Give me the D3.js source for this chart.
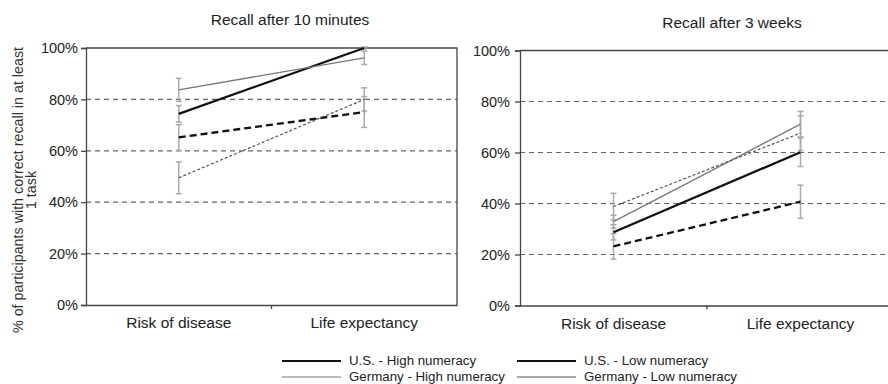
<!DOCTYPE html>
<html lang="en">
<head>
  <meta charset="UTF-8">
  <title>Recall by numeracy</title>
  <script src="https://d3js.org/d3.v7.min.js"></script>
  <style>
    body { margin: 0; background: #fff; }
    svg { font-family: "Liberation Sans", Arial, sans-serif; }
  </style>
</head>
<body>
  <svg width="888" height="384"></svg>

  <script>
    const width = 888;
    const height = 384;

    // data
    const categories = ["Risk of disease", "Life expectancy"];
    const yTicks = [0, 20, 40, 60, 80, 100];
    const seriesNames = ["U.S. - High numeracy", "Germany - High numeracy", "U.S. - Low numeracy", "Germany - Low numeracy"];
    const panelTitles = ["Recall after 10 minutes", "Recall after 3 weeks"];

    // order: US high, Germany high, US low, Germany low
    const recall10min = [[74.4, 100], [83.7, 96.2], [65.2, 75.1], [49.5, 80]];
    const err10min = [[3.2, 0.4], [4.5, 2.6], [5, 6], [6.2, 4.5]];
    const recall3wk = [[28.7, 60.1], [32.9, 71.1], [23.2, 40.7], [38.8, 67.6]];
    const err3wk = [[3, 5.6], [2.5, 5], [5, 6.5], [5.2, 6.8]];

    // styles for each series
    const styles = [
      { stroke: "#111", width: 2.3, dash: null },
      { stroke: "#777", width: 1.3, dash: null },
      { stroke: "#111", width: 2.3, dash: "7,4" },
      { stroke: "#555", width: 1.2, dash: "3,2" }
    ];

    const svg = d3.select("svg");

    const panels = [
      { title: panelTitles[0], values: recall10min, errs: err10min, x0: 86, x1: 457, top: 48, bottom: 305, titleX: 290, titleY: 25, pad: 3 },
      { title: panelTitles[1], values: recall3wk, errs: err3wk, x0: 520, x1: 894, top: 50.5, bottom: 305.5, titleX: 732, titleY: 28, pad: 5 }
    ];

    panels.forEach(p => {
      const x = d3.scaleBand().domain(categories).range([p.x0, p.x1]);
      const y = d3.scaleLinear().domain([0, 100]).range([p.bottom, p.top]);
      const g = svg.append("g");

      // dashed grid
      g.selectAll(".grid")
        .data(yTicks.filter(t => t > 0 && t < 100))
        .enter().append("line")
        .attr("x1", p.x0).attr("x2", p.x1)
        .attr("y1", d => y(d)).attr("y2", d => y(d))
        .attr("stroke", "#666")
        .attr("stroke-width", 1.2)
        .attr("stroke-dasharray", "5,4");

      // frame top + right
      g.append("path")
        .attr("d", `M${p.x0},${y(100)}H${p.x1}V${y(0)}`)
        .attr("fill", "none")
        .attr("stroke", "#444")
        .attr("stroke-width", 1.3);

      // y axis
      const yAxis = g.append("g")
        .attr("transform", `translate(${p.x0},0)`)
        .call(d3.axisLeft(y).tickValues(yTicks).tickFormat(d => d + "%").tickSize(5).tickPadding(p.pad));
      yAxis.selectAll("text").attr("font-size", 14.5).attr("fill", "#222")
        .attr("font-family", "Liberation Sans, Arial, sans-serif");
      yAxis.selectAll("line, path").attr("stroke", "#444").attr("stroke-width", 1.3);

      // x axis
      const xAxis = g.append("g")
        .attr("transform", `translate(0,${y(0)})`)
        .call(d3.axisBottom(x).tickSize(0).tickPadding(12));
      xAxis.select(".domain").attr("stroke", "#444").attr("stroke-width", 1.3);
      xAxis.selectAll("text").attr("font-size", 15.5).attr("fill", "#222")
        .attr("font-family", "Liberation Sans, Arial, sans-serif");
      g.append("line")
        .attr("x1", x(categories[1])).attr("x2", x(categories[1]))
        .attr("y1", y(0)).attr("y2", y(0) + 4)
        .attr("stroke", "#444").attr("stroke-width", 1.3);

      const cx = c => x(c) + x.bandwidth() / 2;

      // error bars
      p.values.forEach((vals, si) => {
        vals.forEach((v, ci) => {
          const e = p.errs[si][ci];
          const xc = cx(categories[ci]);
          const eb = g.append("g").attr("stroke", "#aaa").attr("stroke-width", 1.5);
          eb.append("line").attr("x1", xc).attr("x2", xc).attr("y1", y(v - e)).attr("y2", y(v + e));
          eb.append("line").attr("x1", xc - 3).attr("x2", xc + 3).attr("y1", y(v - e)).attr("y2", y(v - e));
          eb.append("line").attr("x1", xc - 3).attr("x2", xc + 3).attr("y1", y(v + e)).attr("y2", y(v + e));
        });
      });

      // series lines
      const line = d3.line().x((d, i) => cx(categories[i])).y(d => y(d));
      p.values.forEach((vals, si) => {
        g.append("path")
          .datum(vals)
          .attr("d", line)
          .attr("fill", "none")
          .attr("stroke", styles[si].stroke)
          .attr("stroke-width", styles[si].width)
          .attr("stroke-dasharray", styles[si].dash);
      });

      // title
      svg.append("text")
        .attr("x", p.titleX)
        .attr("y", p.titleY)
        .attr("text-anchor", "middle")
        .attr("font-size", 15.5)
        .attr("fill", "#222")
        .text(p.title);
    });

    // y axis label
    const yl = svg.append("text")
      .attr("transform", "translate(23,190) rotate(-90)")
      .attr("text-anchor", "middle")
      .attr("font-size", 14.3)
      .attr("fill", "#333");
    yl.append("tspan").attr("x", 0).attr("dy", 0).text("% of participants with correct recall in at least");
    yl.append("tspan").attr("x", 0).attr("dy", 13).text("1 task");

    // legend (lines drawn solid as in the figure)
    const legendPos = [[282, 361], [282, 377], [517, 361], [517, 377]];
    seriesNames.forEach((name, i) => {
      const [lx, ly] = legendPos[i];
      svg.append("line")
        .attr("x1", lx).attr("x2", lx + 59)
        .attr("y1", ly).attr("y2", ly)
        .attr("stroke", styles[i].stroke)
        .attr("stroke-width", i % 2 === 0 ? 2 : 1.2);
      svg.append("text")
        .attr("x", lx + 67).attr("y", ly + 4)
        .attr("font-size", 13.3)
        .attr("fill", "#222")
        .text(name);
    });
  </script>
</body>
</html>
